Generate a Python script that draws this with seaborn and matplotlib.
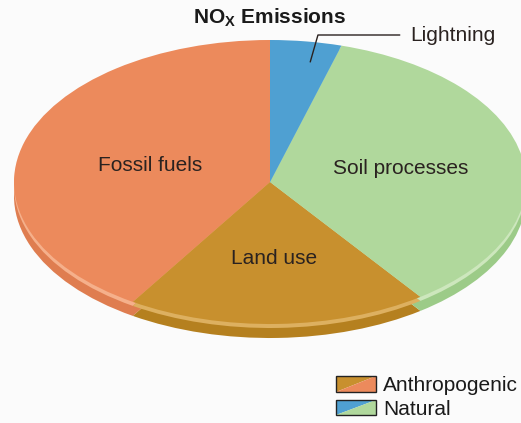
import numpy as np
import pandas as pd
import matplotlib
matplotlib.use("Agg")
import matplotlib.pyplot as plt
import seaborn as sns
from matplotlib.legend_handler import HandlerBase
from matplotlib.patches import Polygon, Rectangle, Patch

# ---- data ----
sources = ["Fossil fuels", "Land use", "Soil processes", "Lightning"]
shares = [41.0, 19.0, 35.5, 4.5]
groups = ["Anthropogenic", "Anthropogenic", "Natural", "Natural"]
top_colors = ["#EC8A5C", "#C8902E", "#B0D89C", "#4FA0D2"]
rim_colors = ["#DF7D50", "#B5801F", "#9CCB88", "#3F90C2"]
hl_colors = ["#F5B08B", "#DDB060", "#CDE7BD", "#8CC3E6"]
legend_labels = ["Anthropogenic", "Natural"]
title_text = r"NO$_\mathbf{X}$ Emissions"

df = pd.DataFrame({"source": sources, "share": shares, "group": groups})

sns.set_theme(style="white")
plt.rcParams["font.family"] = ["Liberation Sans", "DejaVu Sans"]
plt.rcParams["mathtext.fontset"] = "custom"
plt.rcParams["mathtext.bf"] = "Liberation Sans:bold"
plt.rcParams["mathtext.rm"] = "Liberation Sans"

W, H = 521, 423
fig = plt.figure(figsize=(W / 100, H / 100), dpi=100, facecolor="#FBFBFB")
ax = fig.add_axes([0, 0, 1, 1])
ax.set_facecolor("#FBFBFB")

# ellipse geometry (pixels)
cx, cy_top, a, b = 270, 182, 256, 142
CY = H - cy_top
rim = 14 / b

# side wall of the 3D pie
ax.pie(df["share"], colors=rim_colors, startangle=90, counterclock=True,
       center=(0, -rim), radius=1, wedgeprops=dict(linewidth=0))
# highlight band
ax.pie(df["share"], colors=hl_colors, startangle=90, counterclock=True,
       center=(0, -4 / b), radius=1, wedgeprops=dict(linewidth=0))
# top face
wedges, texts = ax.pie(df["share"], colors=top_colors, startangle=90,
                       counterclock=True, radius=1,
                       labels=[s if s != "Lightning" else "" for s in df["source"]],
                       labeldistance=0.51,
                       textprops=dict(fontsize=15, color="#2A2220"),
                       wedgeprops=dict(linewidth=0))
# fine placement of the in-slice labels (radius, angle shift in degrees)
label_place = [(0.48, 2.5), (0.54, 0.0), (0.52, 0.5), (0.0, 0.0)]
for t, wd, (rr, dth) in zip(texts, wedges, label_place):
    th = np.deg2rad((wd.theta1 + wd.theta2) / 2 + dth)
    t.set_position((rr * np.cos(th), rr * np.sin(th)))
    t.set_ha("center")
    t.set_va("center")

# Lightning callout
w = wedges[3]
ang = np.deg2rad(w.theta1 + 0.35 * (w.theta2 - w.theta1))
r = 0.86
ax.annotate("Lightning", xy=(r * np.cos(ang), r * np.sin(ang)),
            xytext=((410 - cx) / a, (H - 35 - CY) / b),
            ha="left", va="center", fontsize=15, color="#2A2220",
            arrowprops=dict(arrowstyle="-", color="#2A2220", lw=1.0,
                            shrinkA=5, shrinkB=0, relpos=(0, 0.5),
                            connectionstyle="angle,angleA=180,angleB=74"))

ax.set_aspect("auto")
ax.set_xlim((0 - cx) / a, (W - cx) / a)
ax.set_ylim((0 - CY) / b, (H - CY) / b)
ax.axis("off")

fig.text(270 / W, 1 - 18 / H, title_text, ha="center", va="center",
         fontsize=15, fontweight="bold", color="#1A1A1A")


class SplitBox(HandlerBase):
    def __init__(self, c_upper, c_lower):
        super().__init__()
        self.cu = c_upper
        self.cl = c_lower

    def create_artists(self, legend, orig_handle, xdescent, ydescent,
                       width, height, fontsize, trans):
        x0, y0 = -xdescent, -ydescent
        x1, y1 = x0 + width, y0 + height
        up = Polygon([[x0, y0], [x0, y1], [x1, y1]], closed=True,
                     facecolor=self.cu, edgecolor="none", transform=trans)
        lo = Polygon([[x0, y0], [x1, y0], [x1, y1]], closed=True,
                     facecolor=self.cl, edgecolor="none", transform=trans)
        fr = Rectangle((x0, y0), width, height, facecolor="none",
                       edgecolor="#222222", lw=1.0, transform=trans)
        return [up, lo, fr]


h1, h2 = Patch(), Patch()
fig.legend([h1, h2], legend_labels,
           handler_map={h1: SplitBox(top_colors[1], top_colors[0]),
                        h2: SplitBox(top_colors[3], top_colors[2])},
           loc="upper left", bbox_to_anchor=(336 / W, 1 - 376 / H),
           frameon=False, fontsize=15, borderpad=0, borderaxespad=0,
           handlelength=1.9, handleheight=0.77, handletextpad=0.35,
           labelspacing=0.22, labelcolor="#1A1A1A")

fig.savefig("out.png", dpi=100, facecolor=fig.get_facecolor())
